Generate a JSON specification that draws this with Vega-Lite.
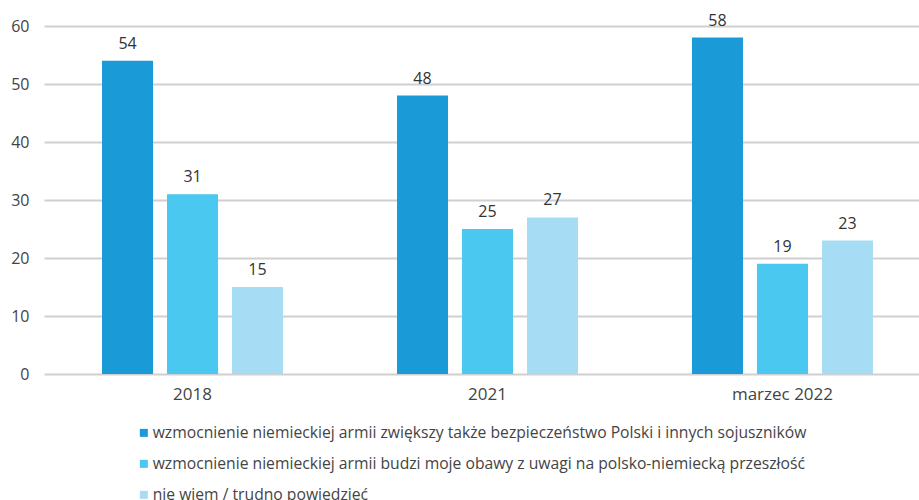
{
  "$schema": "https://vega.github.io/schema/vega-lite/v6.json",
  "autosize": {"type": "none"},
  "padding": {"left": 44, "top": 26, "right": 0, "bottom": 126},
  "width": 887,
  "height": 348,
  "background": "white",
  "data": {"values": [
    {"okres": "2018", "odp": "wzmocnienie niemieckiej armii zwiększy także bezpieczeństwo Polski i innych sojuszników", "v": 54},
    {"okres": "2018", "odp": "wzmocnienie niemieckiej armii budzi moje obawy z uwagi na polsko-niemiecką przeszłość", "v": 31},
    {"okres": "2018", "odp": "nie wiem / trudno powiedzieć", "v": 15},
    {"okres": "2021", "odp": "wzmocnienie niemieckiej armii zwiększy także bezpieczeństwo Polski i innych sojuszników", "v": 48},
    {"okres": "2021", "odp": "wzmocnienie niemieckiej armii budzi moje obawy z uwagi na polsko-niemiecką przeszłość", "v": 25},
    {"okres": "2021", "odp": "nie wiem / trudno powiedzieć", "v": 27},
    {"okres": "marzec 2022", "odp": "wzmocnienie niemieckiej armii zwiększy także bezpieczeństwo Polski i innych sojuszników", "v": 58},
    {"okres": "marzec 2022", "odp": "wzmocnienie niemieckiej armii budzi moje obawy z uwagi na polsko-niemiecką przeszłość", "v": 19},
    {"okres": "marzec 2022", "odp": "nie wiem / trudno powiedzieć", "v": 23}
  ]},
  "config": {
    "font": "Open Sans",
    "view": {"stroke": null},
    "axis": {"labelFont": "Open Sans", "labelColor": "#444444", "labelFontSize": 16}
  },
  "encoding": {
    "x": {"field": "okres", "type": "nominal", "sort": null,
      "scale": {"paddingInner": 0.339, "paddingOuter": 0.173},
      "axis": {"title": null, "labelAngle": 0, "ticks": false, "domain": false, "labelPadding": 12, "labelFontSize": 17}},
    "xOffset": {"field": "odp", "type": "nominal", "sort": null,
      "scale": {"paddingInner": 0.215, "paddingOuter": 0.1075}},
    "y": {"field": "v", "type": "quantitative",
      "scale": {"domain": [0, 60], "nice": false},
      "axis": {"title": null, "values": [0, 10, 20, 30, 40, 50, 60], "ticks": false, "domain": false,
        "gridColor": "#d0d0d0", "gridWidth": 2, "labelPadding": 15}}
  },
  "layer": [
    {"mark": {"type": "bar"},
      "encoding": {"color": {"field": "odp", "type": "nominal", "sort": null,
        "scale": {"range": ["#1a9ad6", "#4bc8f0", "#a6ddf5"]},
        "legend": {"title": null, "orient": "none", "legendX": 92, "legendY": 399, "direction": "vertical",
          "symbolType": "square", "symbolSize": 64, "symbolStrokeWidth": 0, "labelFontSize": 15.7, "labelColor": "#444444",
          "labelFont": "Open Sans", "rowPadding": 14, "symbolOffset": 0, "labelOffset": 1, "labelLimit": 900}}}},
    {"mark": {"type": "text", "dy": -17, "fontSize": 16, "color": "#333333", "font": "Open Sans"},
      "encoding": {"text": {"field": "v", "type": "quantitative"}}}
  ]
}
